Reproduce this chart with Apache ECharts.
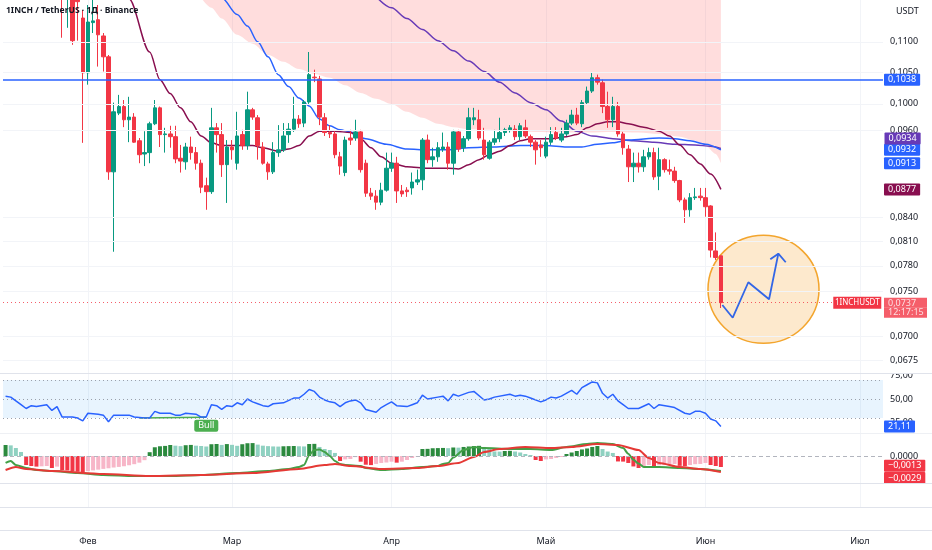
<!DOCTYPE html>
<html lang="ru">
<head>
<meta charset="utf-8">
<title>1INCH / TetherUS</title>
<script src="https://cdn.jsdelivr.net/npm/echarts@6.0.0/dist/echarts.min.js"></script>
<style>
html,body{margin:0;padding:0;background:#ffffff;}
#chart{width:932px;height:550px;}
</style>
</head>
<body>
<div id="chart"></div>
<script>
// ---------------- data ----------------
const startDate = [2025, 0, 16];
const dayCount = 171;
const monthNames = ['Янв','Фев','Мар','Апр','Май','Июн','Июл','Авг'];
const priceTicks = [0.1100, 0.1050, 0.1000, 0.0960, 0.0840, 0.0810, 0.0780, 0.0750, 0.0700, 0.0675];
const rsiTicks = [25, 50, 75];
const macdTicks = [0];

const candleStart = 11; // [open, close, low, high]
const candles = [
[0.1250,0.1200,0.1107,0.1262],[0.1180,0.1240,0.1124,0.1255],[0.1220,0.1102,0.1095,0.1235],[0.1190,0.1170,0.1102,0.1215],
[0.1141,0.1049,0.0942,0.1155],[0.1049,0.1134,0.1030,0.1164],[0.1133,0.1136,0.1115,0.1190],[0.1138,0.1112,0.1059,0.1164],
[0.1110,0.1075,0.1051,0.1115],[0.1075,0.0901,0.0890,0.1078],[0.0901,0.0988,0.0797,0.1002],[0.0986,0.0996,0.0983,0.1014],
[0.0996,0.0976,0.0965,0.1006],[0.0976,0.0980,0.0943,0.1011],[0.0980,0.0943,0.0942,0.0986],[0.0945,0.0925,0.0913,0.0949],
[0.0926,0.0928,0.0909,0.0959],[0.0928,0.0970,0.0913,0.0973],[0.0970,0.0994,0.0968,0.1006],[0.0994,0.0954,0.0936,0.0996],
[0.0954,0.0955,0.0928,0.0964],[0.0955,0.0951,0.0935,0.0967],[0.0951,0.0919,0.0913,0.0967],[0.0920,0.0916,0.0900,0.0939],
[0.0915,0.0936,0.0904,0.0942],[0.0936,0.0928,0.0918,0.0951],[0.0928,0.0913,0.0904,0.0936],[0.0913,0.0880,0.0872,0.0918],
[0.0882,0.0874,0.0850,0.0893],[0.0874,0.0964,0.0871,0.0994],[0.0964,0.0954,0.0928,0.0971],[0.0954,0.0911,0.0894,0.0971],
[0.0911,0.0936,0.0859,0.0946],[0.0936,0.0932,0.0918,0.0946],[0.0913,0.0952,0.0904,0.0988],[0.0954,0.0938,0.0932,0.0961],
[0.0938,0.0991,0.0932,0.1019],[0.0991,0.0980,0.0976,0.0994],[0.0979,0.0938,0.0918,0.0983],[0.0936,0.0913,0.0911,0.0943],
[0.0912,0.0901,0.0890,0.0915],[0.0901,0.0928,0.0898,0.0943],[0.0928,0.0932,0.0922,0.0968],[0.0932,0.0952,0.0929,0.0971],
[0.0954,0.0962,0.0942,0.0971],[0.0962,0.0977,0.0958,0.1011],[0.0977,0.0970,0.0964,0.0983],[0.0971,0.1003,0.0965,0.1006],
[0.1003,0.1046,0.1000,0.1083],[0.1042,0.1041,0.1034,0.1054],[0.1039,0.0980,0.0968,0.1044],[0.0979,0.0957,0.0952,0.0986],
[0.0957,0.0955,0.0949,0.0968],[0.0955,0.0925,0.0920,0.0959],[0.0922,0.0909,0.0897,0.0929],[0.0900,0.0946,0.0895,0.0951],
[0.0949,0.0946,0.0939,0.0961],[0.0949,0.0958,0.0945,0.0976],[0.0958,0.0904,0.0900,0.0961],[0.0913,0.0872,0.0867,0.0918],
[0.0872,0.0868,0.0863,0.0879],[0.0868,0.0860,0.0850,0.0876],[0.0860,0.0876,0.0856,0.0886],[0.0876,0.0906,0.0874,0.0928],
[0.0906,0.0913,0.0901,0.0928],[0.0913,0.0875,0.0859,0.0922],[0.0875,0.0871,0.0867,0.0883],[0.0876,0.0874,0.0867,0.0880],
[0.0879,0.0887,0.0870,0.0900],[0.0887,0.0890,0.0883,0.0904],[0.0890,0.0946,0.0876,0.0949],[0.0946,0.0918,0.0913,0.0954],
[0.0918,0.0922,0.0908,0.0935],[0.0922,0.0935,0.0915,0.0943],[0.0933,0.0936,0.0929,0.0957],[0.0936,0.0913,0.0904,0.0943],
[0.0913,0.0958,0.0897,0.0961],[0.0958,0.0933,0.0929,0.0961],[0.0935,0.0948,0.0929,0.0952],[0.0948,0.0979,0.0945,0.0994],
[0.0976,0.0979,0.0968,0.0994],[0.0976,0.0949,0.0946,0.0991],[0.0946,0.0925,0.0918,0.0964],[0.0920,0.0943,0.0918,0.0946],
[0.0943,0.0948,0.0939,0.0961],[0.0948,0.0957,0.0943,0.0979],[0.0957,0.0961,0.0952,0.0964],[0.0961,0.0964,0.0957,0.0968],
[0.0962,0.0951,0.0946,0.0968],[0.0951,0.0967,0.0946,0.0971],[0.0964,0.0952,0.0949,0.0976],[0.0951,0.0943,0.0936,0.0954],
[0.0943,0.0932,0.0911,0.0946],[0.0939,0.0935,0.0922,0.0946],[0.0923,0.0943,0.0920,0.0951],[0.0943,0.0954,0.0939,0.0965],
[0.0957,0.0949,0.0946,0.0965],[0.0946,0.0955,0.0943,0.0964],[0.0955,0.0971,0.0952,0.0976],[0.0971,0.0983,0.0968,0.0991],
[0.0983,0.0971,0.0968,0.0994],[0.0970,0.1002,0.0965,0.1006],[0.1002,0.1020,0.0999,0.1027],[0.1020,0.1041,0.1017,0.1049],
[0.1041,0.1034,0.1030,0.1046],[0.1033,0.0996,0.0986,0.1038],[0.0996,0.0976,0.0964,0.1019],[0.0976,0.0996,0.0965,0.1011],
[0.0996,0.0955,0.0951,0.1003],[0.0955,0.0935,0.0925,0.0958],[0.0933,0.0908,0.0887,0.0939],[0.0908,0.0913,0.0887,0.0928],
[0.0913,0.0908,0.0900,0.0928],[0.0908,0.0922,0.0901,0.0932],[0.0922,0.0928,0.0918,0.0935],[0.0928,0.0894,0.0890,0.0935],
[0.0895,0.0918,0.0876,0.0935],[0.0918,0.0904,0.0900,0.0920],[0.0904,0.0902,0.0897,0.0918],[0.0902,0.0889,0.0886,0.0908],
[0.0889,0.0863,0.0860,0.0890],[0.0863,0.0850,0.0833,0.0866],[0.0850,0.0866,0.0841,0.0872],[0.0866,0.0867,0.0863,0.0879],
[0.0868,0.0866,0.0862,0.0879],[0.0866,0.0854,0.0841,0.0879],[0.0855,0.0799,0.0790,0.0856],[0.0798,0.0790,0.0787,0.0821],
[0.0792,0.0737,0.0731,0.0792]
];

const maMaroon = [[22,0.1229],[24,0.1175],[28,0.1083],[30,0.1038],[32,0.1016],[34,0.0994],[36,0.0973],[38,0.0952],[40,0.0942],[42,0.0938],[45,0.0938],[48,0.0938],[50,0.0935],[53,0.0930],[55,0.0933],[57,0.0938],[59,0.0952],[61,0.0959],[64,0.0959],[67,0.0957],[69,0.0948],[71,0.0935],[73,0.0922],[75,0.0913],[78,0.0908],[82,0.0906],[86,0.0906],[88,0.0905],[90,0.0911],[92,0.0918],[94,0.0925],[96,0.0930],[98,0.0938],[100,0.0945],[102,0.0948],[106,0.0948],[109,0.0951],[111,0.0954],[113,0.0964],[115,0.0970],[117,0.0973],[119,0.0973],[121,0.0970],[124,0.0965],[127,0.0959],[129,0.0952],[131,0.0939],[133,0.0925],[135,0.0912],[137,0.0898],[139,0.0877]];
const maBlue = [[40,0.1195],[42,0.1177],[45,0.1147],[47,0.1127],[49,0.1100],[51,0.1075],[53,0.1046],[55,0.1027],[57,0.1009],[59,0.0997],[61,0.0977],[63,0.0967],[65,0.0961],[67,0.0958],[70,0.0948],[74,0.0940],[78,0.0933],[82,0.0932],[86,0.0932],[90,0.0935],[95,0.0936],[100,0.0938],[105,0.0938],[109,0.0936],[112,0.0936],[115,0.0940],[118,0.0942],[121,0.0946],[127,0.0949],[130,0.0948],[133,0.0945],[136,0.0940],[139,0.0932]];
const maPurple = [[72,0.1179],[75,0.1159],[78,0.1140],[81,0.1121],[84,0.1102],[87,0.1085],[90,0.1068],[93,0.1051],[96,0.1034],[99,0.1017],[102,0.1002],[105,0.0991],[108,0.0974],[111,0.0959],[114,0.0952],[118,0.0948],[122,0.0945],[126,0.0943],[130,0.0940],[134,0.0939],[137,0.0937],[139,0.0934]];
const cloudEdge = [[38,0.1177],[40,0.1159],[42,0.1140],[45,0.1112],[48,0.1097],[51,0.1078],[54,0.1067],[57,0.1055],[60,0.1047],[63,0.1041],[66,0.1029],[69,0.1017],[72,0.1008],[75,0.1000],[78,0.0988],[81,0.0979],[84,0.0970],[87,0.0965],[90,0.0962],[94,0.0961],[98,0.0959],[103,0.0958],[108,0.0957],[113,0.0957],[118,0.0958],[123,0.0957],[127,0.0955],[131,0.0951],[134,0.0945],[136,0.0938],[138,0.0926],[139,0.0913]];

const rsi = [[0,53],[1,52],[2,48],[3,44],[4,40],[5,43],[6,42],[8,44],[9,38],[10,42],[11,31],[13,31],[14,30],[15,27],[16,35],[18,34],[19,33],[20,26],[21,33],[24,33],[25,31],[27,30],[28,30],[29,37],[30,35],[32,35],[33,33],[34,33],[35,35],[37,34],[38,31],[39,31],[40,44],[41,43],[42,39],[43,43],[44,42],[45,46],[46,44],[47,50],[48,47],[49,45],[50,43],[51,42],[52,45],[54,46],[56,51],[57,51],[58,55],[59,60],[60,58],[61,52],[62,49],[63,47],[64,46],[65,42],[66,46],[67,48],[68,49],[69,46],[70,39],[72,36],[73,41],[74,44],[75,47],[76,43],[78,42],[79,44],[80,46],[81,54],[82,50],[84,52],[85,53],[86,48],[87,55],[88,53],[90,57],[91,58],[93,49],[94,50],[95,52],[98,55],[99,53],[100,54],[101,53],[102,51],[104,47],[105,49],[106,52],[107,51],[108,53],[110,59],[111,55],[112,62],[113,65],[114,68],[115,67],[116,56],[117,51],[118,55],[119,48],[120,44],[121,40],[122,40],[123,40],[125,45],[126,40],[127,44],[129,42],[130,41],[132,35],[133,34],[134,37],[135,37],[136,35],[137,29],[138,27],[139,21.11]];
const bullLine = [[26,30.0],[39,30.8]];

const macdHist = [
0.00145,0.00140,0.00105,0.00053,-0.00119,-0.00132,-0.00140,-0.00136,-0.00132,-0.00158,
-0.00140,-0.00185,-0.00190,-0.00198,-0.00208,-0.00211,-0.00200,-0.00190,-0.00180,-0.00170,
-0.00162,-0.00152,-0.00144,-0.00135,-0.00122,-0.00108,-0.00088,-0.00055,0.00050,0.00115,
0.00128,0.00133,0.00145,0.00136,0.00130,0.00142,0.00146,0.00136,0.00132,0.00125,
0.00155,0.00158,0.00146,0.00157,0.00147,0.00134,0.00155,0.00168,0.00170,0.00150,
0.00136,0.00130,0.00126,0.00124,0.00128,0.00130,0.00132,0.00128,0.00126,0.00158,
0.00160,0.00119,0.00092,0.00079,0.00040,-0.00066,-0.00045,-0.00040,-0.00015,-0.00075,
-0.00115,-0.00120,-0.00105,-0.00092,-0.00086,-0.00075,-0.00088,-0.00075,-0.00053,-0.00026,
-0.00005,0.00092,0.00094,0.00102,0.00104,0.00106,0.00103,0.00112,0.00110,0.00119,
0.00125,0.00132,0.00134,0.00119,0.00105,0.00060,0.00058,0.00066,0.00068,0.00059,
0.00046,0.00026,0.00013,-0.00053,-0.00066,-0.00045,-0.00040,-0.00026,-0.00013,0.00026,
0.00046,0.00066,0.00086,0.00099,0.00119,0.00132,0.00092,0.00059,0.00040,-0.00072,
-0.00074,-0.00092,-0.00138,-0.00158,-0.00140,-0.00119,-0.00145,-0.00122,-0.00120,-0.00118,
-0.00105,-0.00130,-0.00134,-0.00119,-0.00108,-0.00105,-0.00092,-0.00119,-0.00132,-0.00145
];
const macdLine = [[0,-0.00092],[1,-0.00066],[2,-0.00119],[4,-0.00158],[6,-0.00185],[9,-0.00198],[14,-0.00224],[19,-0.00250],[25,-0.00264],[32,-0.00264],[38,-0.00250],[45,-0.00224],[51,-0.00198],[55,-0.00171],[57,-0.00145],[58,-0.00119],[59,0.00013],[60,0.00079],[61,0.00086],[62,0.00053],[63,0.00000],[64,-0.00066],[65,-0.00105],[66,-0.00119],[69,-0.00132],[70,-0.00158],[73,-0.00185],[77,-0.00171],[81,-0.00145],[84,-0.00132],[85,-0.00105],[86,-0.00092],[87,-0.00020],[89,0.00079],[91,0.00119],[93,0.00105],[98,0.00092],[102,0.00092],[106,0.00079],[109,0.00119],[113,0.00158],[115,0.00171],[118,0.00158],[120,0.00105],[121,0.00030],[122,-0.00050],[123,-0.00100],[124,-0.00145],[127,-0.00145],[131,-0.00158],[135,-0.00171],[139,-0.00198]];
const signalLine = [[0,-0.00185],[2,-0.00145],[4,-0.00171],[9,-0.00198],[19,-0.00237],[28,-0.00264],[38,-0.00250],[48,-0.00224],[57,-0.00171],[62,-0.00119],[64,-0.00105],[67,-0.00132],[73,-0.00171],[80,-0.00158],[84,-0.00132],[88,-0.00092],[91,-0.00013],[93,0.00053],[96,0.00092],[101,0.00119],[106,0.00105],[110,0.00119],[115,0.00158],[119,0.00145],[123,0.00079],[125,-0.00026],[127,-0.00092],[131,-0.00145],[135,-0.00171],[139,-0.00211]];

const levelPrice = 0.1038;
const lastPrice = 0.0737;
const lastTime = '12:17:15';
const symbolName = '1INCHUSDT';
const symbolLabelPos = 165.5;
const badgePurple = 0.0934, badgeBlue = 0.0932, badgeCloud = 0.0913, badgeMaroon = 0.0877;
const badgeRsi = 21.11, badgeHist = -0.0013, badgeSignal = -0.0029;
const projPath = [[139.28,0.07344],[141.3,0.07202],[144.33,0.07605],[148.36,0.07409],[150.16,0.07946]];
const projHead = [[148.6,0.07878],[150.16,0.07946],[151.6,0.07842]];
const focusCircle = [[147.28,0.07523]];

// ---------------- helpers ----------------
const FONT = '"Noto Sans", Roboto, "DejaVu Sans", sans-serif';
const TXT = '#131722';
const FS = 9;
const fmt = (v, d) => (v < 0 ? '\u2212' : '') + Math.abs(v).toFixed(d).replace('.', ',');

const categories = [];
for (let k = 0; k < dayCount; k++) {
  const d = new Date(Date.UTC(startDate[0], startDate[1], startDate[2] + k));
  categories.push(d.toISOString().slice(0, 10));
}
const isMonthStart = (i) => !!categories[i] && categories[i].slice(8) === '01';
const monthLabel = (val) => monthNames[parseInt(val.slice(5, 7), 10) - 1];

const PLOT_LEFT = 3, PLOT_RIGHT = 49;
const panes = [
  {top: 0, height: 373},
  {top: 373, height: 60},
  {top: 433, height: 50},
  {top: 483, height: 24},
  {top: 507, height: 23}
];

const histColor = (v, p) => {
  if (v >= 0) return (p === undefined || v >= p) ? '#2b8a3e' : '#8fd1c1';
  return (p === undefined || v < p) ? '#f23645' : '#f7b6c8';
};

const badgeLabel = (text, bg) => ({
  show: true, position: 'end', distance: 1, formatter: text,
  backgroundColor: bg, color: '#ffffff', padding: [1, 4, 1, 4],
  fontSize: FS, lineHeight: 10, fontFamily: FONT, borderRadius: 1
});
const badge = (value, text, bg) => ({
  yAxis: value,
  lineStyle: {color: 'rgba(0,0,0,0)', width: 0},
  label: badgeLabel(text, bg)
});
const ML = (data) => ({symbol: 'none', silent: true, animation: false, precision: 10, data: data});

// ---------------- axes ----------------
const xAxes = panes.map((p, g) => ({
  type: 'category', gridIndex: g, data: categories, boundaryGap: true,
  axisLine: {show: false}, axisTick: {show: false, alignWithLabel: true},
  axisLabel: {
    show: g === panes.length - 1, interval: (i) => isMonthStart(i),
    formatter: monthLabel, color: TXT, fontSize: FS, fontFamily: FONT, margin: 7
  },
  splitLine: {show: g < panes.length - 1, alignWithLabel: true, interval: (i) => isMonthStart(i), lineStyle: {color: '#f2f4f8', width: 1}}
}));
xAxes.push({type: 'value', gridIndex: 0, min: -0.5, max: dayCount - 0.5, show: false});

const axisLabelStyle = {color: TXT, fontSize: FS, fontFamily: FONT, margin: 7};
const yAxes = [
  {
    type: 'log', logBase: 10, gridIndex: 0, position: 'right', min: 0.06616, max: 0.1173,
    axisLine: {show: false}, axisTick: {show: false, customValues: priceTicks},
    axisLabel: Object.assign({customValues: priceTicks, formatter: (v) => fmt(v, 4)}, axisLabelStyle),
    splitLine: {show: false}
  },
  {
    type: 'value', gridIndex: 1, position: 'right', min: 14.2, max: 77.4,
    axisLine: {show: false}, axisTick: {show: false, customValues: rsiTicks},
    axisLabel: Object.assign({customValues: rsiTicks, formatter: (v) => fmt(v, 2)}, axisLabelStyle),
    splitLine: {show: false}
  },
  {
    type: 'value', gridIndex: 2, position: 'right', min: -0.00356, max: 0.00303,
    axisLine: {show: false}, axisTick: {show: false, customValues: macdTicks},
    axisLabel: Object.assign({customValues: macdTicks, formatter: (v) => fmt(v, 4)}, axisLabelStyle),
    splitLine: {show: false}
  },
  {type: 'value', gridIndex: 3, show: false},
  {type: 'value', gridIndex: 4, show: false}
];

// ---------------- series ----------------
const series = [];

// price grid lines at tick values
series.push({
  type: 'line', name: 'grid', xAxisIndex: 0, yAxisIndex: 0, data: [], silent: true, z: 0,
  markLine: ML(priceTicks.map(v => ({yAxis: v, lineStyle: {color: '#f2f4f8', width: 1, type: 'solid'}, label: {show: false}})))
});

// cloud band (filled to the top)
series.push({
  type: 'line', name: 'cloud', xAxisIndex: 0, yAxisIndex: 0, data: cloudEdge,
  symbol: 'none', smooth: 0.3, smoothMonotone: 'x', lineStyle: {width: 0},
  areaStyle: {color: 'rgba(255,82,82,0.28)', origin: 'end'}, z: 1, silent: true,
  markLine: ML([
    badge(badgeCloud, fmt(badgeCloud, 4), '#2962ff'),
    {
      yAxis: lastPrice,
      lineStyle: {color: '#f23645', width: 1, type: [1, 3], opacity: 0.8},
      label: {
        show: true, position: 'end', distance: 1,
        formatter: '{e|' + fmt(lastPrice, 4) + '}\n{v|' + fmt(lastPrice, 4) + '}\n{t|' + lastTime + '}',
        rich: {
          e: {color: 'rgba(0,0,0,0)', fontSize: FS, lineHeight: 10, padding: [0, 4, 1, 4], width: 35, fontFamily: FONT},
          v: {color: '#ffffff', backgroundColor: '#f23645', fontSize: FS, lineHeight: 10, padding: [1, 4, 0, 4], width: 35, fontFamily: FONT},
          t: {color: '#ffffff', backgroundColor: '#f23645', fontSize: FS, lineHeight: 10, padding: [0, 4, 1, 4], width: 35, fontFamily: FONT}
        }
      }
    }
  ])
});

// moving averages
series.push({
  type: 'line', name: 'maPurple', xAxisIndex: 0, yAxisIndex: 0, data: maPurple,
  symbol: 'none', smooth: 0.3, smoothMonotone: 'x', lineStyle: {color: '#673ab7', width: 1.5}, z: 2, silent: true
});
series.push({
  type: 'line', name: 'maBlue', xAxisIndex: 0, yAxisIndex: 0, data: maBlue,
  symbol: 'none', smooth: 0.3, smoothMonotone: 'x', lineStyle: {color: '#2962ff', width: 1.5}, z: 2, silent: true,
  markLine: ML([badge(badgeBlue, fmt(badgeBlue, 4), '#2962ff')])
});
series.push({
  type: 'line', name: 'maMaroon', xAxisIndex: 0, yAxisIndex: 0, data: maMaroon,
  symbol: 'none', smooth: 0.3, smoothMonotone: 'x', lineStyle: {color: '#880e4f', width: 1.5}, z: 2, silent: true,
  markLine: ML([badge(badgeMaroon, fmt(badgeMaroon, 4), '#880e4f')])
});

// focus circle
series.push({
  type: 'scatter', name: 'focus', xAxisIndex: 5, yAxisIndex: 0, data: focusCircle,
  symbol: 'circle', symbolSize: [111, 108], silent: true, z: 3,
  itemStyle: {color: '#fde9cd', borderColor: '#f3a52d', borderWidth: 1.5, opacity: 1}
});

// candles
series.push({
  type: 'candlestick', name: '1INCHUSDT', xAxisIndex: 0, yAxisIndex: 0,
  data: candles.map((c, k) => [candleStart + k, c[0], c[1], c[2], c[3]]),
  encode: {x: 0, y: [1, 2, 3, 4]},
  barWidth: 4, clip: true, z: 4, silent: true,
  itemStyle: {color: '#089981', color0: '#f23645', borderColor: '#089981', borderColor0: '#f23645', borderWidth: 1},
  markLine: ML([{
    yAxis: levelPrice, lineStyle: {color: '#2962ff', width: 1.5, type: 'solid'},
    label: badgeLabel(fmt(levelPrice, 4), '#2962ff')
  }])
});

// projection arrow (+ right-edge tags that sit on the price scale)
series.push({
  type: 'line', name: 'proj', xAxisIndex: 5, yAxisIndex: 0, data: projPath,
  symbol: 'none', lineStyle: {color: '#3366e6', width: 1.8}, z: 5, silent: true,
  markPoint: {
    silent: true, animation: false,
    data: [
      {
        coord: [symbolLabelPos, lastPrice], symbol: 'rect', symbolSize: [48, 12],
        itemStyle: {color: '#f23645'},
        label: {show: true, position: 'inside', formatter: symbolName, color: '#ffffff', fontSize: 8, fontFamily: FONT}
      },
      {
        coord: [dayCount - 0.5, badgePurple], symbol: 'rect', symbolSize: 1, itemStyle: {color: 'rgba(0,0,0,0)'},
        label: Object.assign(badgeLabel(fmt(badgePurple, 4), '#673ab7'), {position: 'right', offset: [0, -10]})
      }
    ]
  }
});
series.push({
  type: 'line', name: 'projHead', xAxisIndex: 5, yAxisIndex: 0, data: projHead,
  symbol: 'none', lineStyle: {color: '#3366e6', width: 1.8}, z: 5, silent: true
});

// RSI
series.push({
  type: 'line', name: 'rsi', xAxisIndex: 1, yAxisIndex: 1, data: rsi,
  symbol: 'none', lineStyle: {color: '#2962ff', width: 1.5}, z: 3, silent: true,
  markArea: {silent: true, itemStyle: {color: 'rgba(33,150,243,0.10)'}, data: [[{yAxis: 30}, {yAxis: 70}]]},
  markLine: ML([70, 50, 30].map(v => ({yAxis: v, lineStyle: {color: '#9aa0ab', width: 1, type: [1, 3]}, label: {show: false}}))
    .concat([badge(badgeRsi, fmt(badgeRsi, 2), '#2962ff')]))
});
series.push({
  type: 'line', name: 'bull', xAxisIndex: 1, yAxisIndex: 1, data: bullLine,
  symbol: 'none', lineStyle: {color: '#4caf50', width: 1.5}, z: 2, silent: true,
  markPoint: {
    silent: true, animation: false,
    data: [{
      coord: bullLine[bullLine.length - 1], symbol: 'circle', symbolSize: 1, itemStyle: {color: 'rgba(0,0,0,0)'},
      label: {show: true, position: 'bottom', distance: 2, formatter: 'Bull', color: '#ffffff', backgroundColor: '#4caf50', padding: [1, 4, 1, 4], fontSize: FS, lineHeight: 10, fontFamily: FONT, borderRadius: 2}
    }]
  }
});

// MACD
series.push({
  type: 'bar', name: 'hist', xAxisIndex: 2, yAxisIndex: 2, barWidth: 4, silent: true, z: 2,
  data: macdHist.map((v, i) => ({value: v, itemStyle: {color: histColor(v, macdHist[i - 1])}})),
  markLine: ML([
    {yAxis: 0, lineStyle: {color: '#b2b5be', width: 1, type: [4, 3]}, label: {show: false}},
    badge(badgeHist, fmt(badgeHist, 4), '#f23645')
  ])
});
series.push({
  type: 'line', name: 'macd', xAxisIndex: 2, yAxisIndex: 2, data: macdLine,
  symbol: 'none', smooth: 0.25, smoothMonotone: 'x', lineStyle: {color: '#43a047', width: 2}, z: 3, silent: true
});
series.push({
  type: 'line', name: 'signal', xAxisIndex: 2, yAxisIndex: 2, data: signalLine,
  symbol: 'none', smooth: 0.25, smoothMonotone: 'x', lineStyle: {color: '#e53935', width: 2}, z: 3, silent: true,
  markLine: ML([badge(badgeSignal, fmt(badgeSignal, 4), '#f23645')])
});

// ---------------- chrome ----------------
const separators = panes.slice(1).map(p => p.top).concat([panes[panes.length - 1].top + panes[panes.length - 1].height]);
const graphic = [
  {type: 'rect', shape: {x: 932 - PLOT_RIGHT + 1, y: panes[1].top - 5, width: PLOT_RIGHT, height: 5.5}, style: {fill: '#ffffff'}, z: 50, silent: true}
].concat(separators.map((y, k) => ({
  type: 'line', shape: {x1: 0, y1: y + 0.5, x2: 932, y2: y + 0.5},
  style: {stroke: k === 1 ? '#eef0f4' : '#e0e3eb', lineWidth: 1}, z: 60, silent: true
})));

const option = {
  animation: false,
  backgroundColor: '#ffffff',
  textStyle: {fontFamily: FONT},
  title: [
    {text: '1INCH / TetherUS · 1Д · Binance', left: 6, top: 6, padding: 0, textStyle: {fontSize: 8.5, fontWeight: 'bold', color: TXT, fontFamily: FONT}},
    {text: 'USDT', left: 896, top: 7, padding: 0, textStyle: {fontSize: FS, fontWeight: 'normal', color: TXT, fontFamily: FONT}}
  ],
  grid: panes.map(p => ({left: PLOT_LEFT, right: PLOT_RIGHT, top: p.top, height: p.height, containLabel: false, outerBoundsMode: 'none', show: false})),
  xAxis: xAxes,
  yAxis: yAxes,
  series: series,
  graphic: graphic
};

const chart = echarts.init(document.getElementById('chart'), null, {renderer: 'canvas'});
chart.setOption(option);
</script>
</body>
</html>
